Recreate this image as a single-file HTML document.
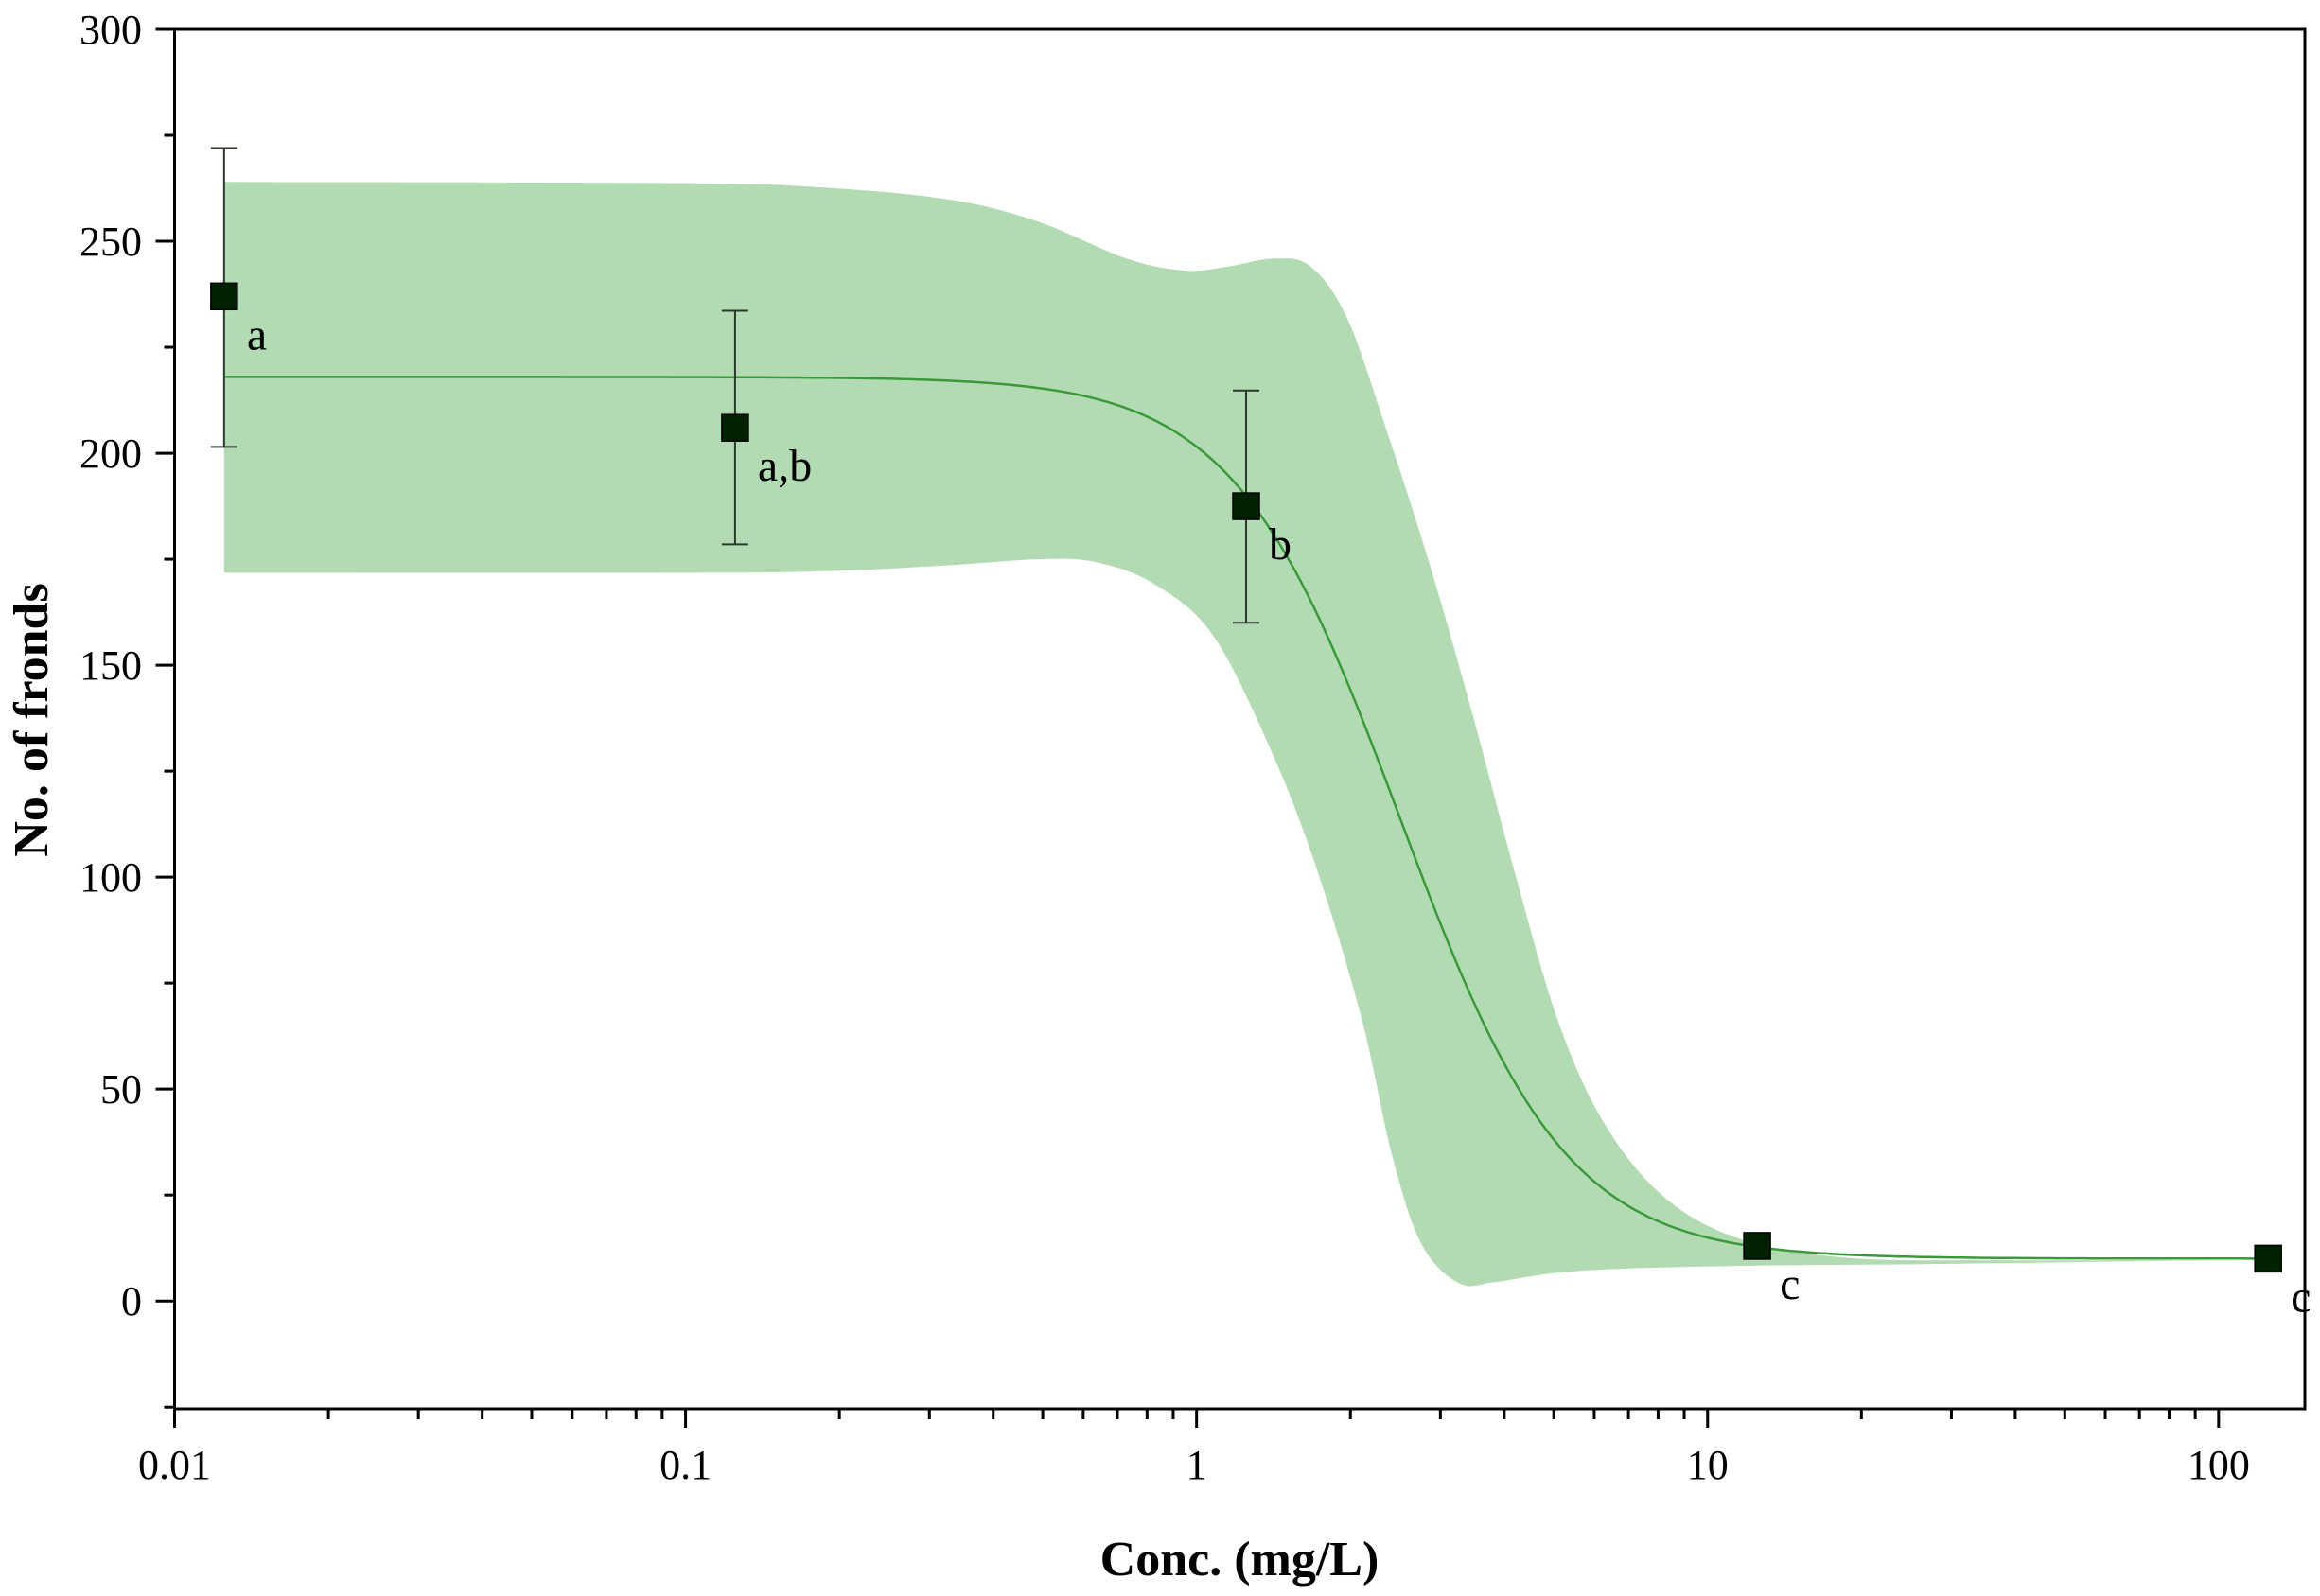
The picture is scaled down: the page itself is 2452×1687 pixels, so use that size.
<!DOCTYPE html>
<html><head><meta charset="utf-8"><style>
html,body{margin:0;padding:0;background:#fff}
svg{display:block}
text{font-family:"Liberation Serif",serif;fill:#000}
</style></head><body>
<svg id="chart" width="2452" height="1687" viewBox="0 0 2452 1687" xmlns="http://www.w3.org/2000/svg">
<g id="band"></g>
<g id="fit"></g>
<g id="errs"></g>
<g id="pts"></g>
<g id="axes"></g>
<text x="1310" y="1665" text-anchor="middle" font-size="52" font-weight="bold">Conc. (mg/L)</text>
<text transform="translate(50,761) rotate(-90)" text-anchor="middle" font-size="52" font-weight="bold">No. of fronds</text>
</svg>
<script>
const conc = [0.0125, 0.125, 1.25, 12.5, 125];
const fronds = [237, 206, 187.5, 13, 10];
const errHi = [272, 233.6, 214.8, 13, 10];
const errLo = [201.5, 178.5, 160, 13, 10];
const groupLabels = ["a", "a,b", "b", "c", "c"];
const fitParams = [218, 10, 2.5, 2.68]; // top, bottom, x0, hill
const upperX = [0.0125,0.1,0.19,0.33,0.49,0.73,0.95,1.16,1.41,1.67,1.97,2.35,2.85,3.45,4.2,5.1,6.3,8.3,11.8,19.1,37.1,72.3,125];
const upperY = [264,263.7,262.6,259.8,254.6,245.9,243.1,244.1,245.9,244.1,231.9,205.7,174.3,139.4,100.9,66,41.6,24.1,14.3,10.1,9.6,9.6,9.6];
const lowerX = [0.0125,0.1,0.19,0.33,0.49,0.636,0.83,1.08,1.41,1.73,2.11,2.41,2.75,3.26,3.85,5.02,7.01,13.6,26.6,72.3,125];
const lowerY = [171.8,171.8,172.2,173.6,175,174.3,169,156.8,128.9,100.9,66,34.6,13.6,4.2,4.5,6.6,7.7,8.4,8.7,9.4,9.6];
const yTicks = [0,50,100,150,200,250,300];
const xTicks = [0.01,0.1,1,10,100];
const xTickLabels = ["0.01","0.1","1","10","100"];

const L=184.5,T=31,R=2436,B=1489;
const X0=0.01, X1=147.5, Y0=-25.4, Y1=300;
const sx=v=>L+(Math.log10(v)-Math.log10(X0))/(Math.log10(X1)-Math.log10(X0))*(R-L);
const sy=v=>B-(v-Y0)/(Y1-Y0)*(B-T);
const NS="http://www.w3.org/2000/svg";
function mk(tag,parent,attrs){const e=document.createElementNS(NS,tag);for(const k in attrs)e.setAttribute(k,attrs[k]);parent.appendChild(e);return e;}
function cr(p){let d=`M${p[0][0]},${p[0][1]}`;for(let i=0;i<p.length-1;i++){const a=p[Math.max(i-1,0)],b=p[i],c=p[i+1],e=p[Math.min(i+2,p.length-1)];
d+=` C${b[0]+(c[0]-a[0])/6},${b[1]+(c[1]-a[1])/6} ${c[0]-(e[0]-b[0])/6},${c[1]-(e[1]-b[1])/6} ${c[0]},${c[1]}`;}return d;}

const up=upperX.map((x,i)=>[sx(x),sy(upperY[i])]);
const lo=lowerX.map((x,i)=>[sx(x),sy(lowerY[i])]).reverse();
let dU=cr(up), dL=cr(lo).replace(/^M/,'L');
const band=mk('path',document.getElementById('band'),{d:dU+' '+dL+' Z',fill:'#b3dbb3'});



const fp=[];
for(let i=0;i<=300;i++){const lx=Math.log10(conc[0])+i/300*(Math.log10(conc[4])-Math.log10(conc[0]));const x=Math.pow(10,lx);
const y=fitParams[1]+(fitParams[0]-fitParams[1])/(1+Math.pow(x/fitParams[2],fitParams[3]));fp.push([sx(x),sy(y)].map(v=>v.toFixed(1)).join(','));}
const fl=mk('polyline',document.getElementById('fit'),{points:fp.join(' '),fill:'none',stroke:'#3a9a3a','stroke-width':2.5});



const eg=document.getElementById('errs'), pg=document.getElementById('pts');
conc.forEach((c,i)=>{const x=sx(c);
 if(errHi[i]-errLo[i]>1){
  const g=mk('g',eg,{stroke:'#2a3a2a','stroke-width':2});
  
  
  mk('line',g,{x1:x,x2:x,y1:sy(errHi[i]),y2:sy(errLo[i])});
  mk('line',g,{x1:x-14,x2:x+14,y1:sy(errHi[i]),y2:sy(errHi[i])});
  mk('line',g,{x1:x-14,x2:x+14,y1:sy(errLo[i]),y2:sy(errLo[i])});
 }
 const r=mk('rect',pg,{x:x-14,y:sy(fronds[i])-14,width:28,height:28,fill:'#002200',stroke:'#000','stroke-width':1.5});
 
 
 const t=mk('text',pg,{x:x+24,y:sy(fronds[i])+56,'font-size':48});
 t.textContent=groupLabels[i];
 
 
});

const ax=document.getElementById('axes');
const fr=mk('path',ax,{d:`M${L},${T} L${L},${B} L${R},${B} L${R},${T} Z`,fill:'none',stroke:'#000','stroke-width':3});


for(let v=-25;v<=300;v+=25){const y=sy(v);const major=v%50===0;
 mk('line',ax,{x1:L,x2:L-(major?20:11),y1:y,y2:y,stroke:'#000','stroke-width':3});}
yTicks.forEach(v=>{const t=mk('text',ax,{x:150,y:sy(v)+15,'font-size':44,'text-anchor':'end'});t.textContent=v;
 
 });
for(let d=0.01;d<=100;d*=10){for(let k=1;k<=9;k++){const v=d*k;if(v>X1)break;const x=sx(v);
 mk('line',ax,{x1:x,x2:x,y1:B,y2:B+(k===1?20:11),stroke:'#000','stroke-width':3});}}
xTicks.forEach((v,i)=>{const t=mk('text',ax,{x:sx(v),y:1563,'font-size':44,'text-anchor':'middle'});t.textContent=xTickLabels[i];
 
 });
</script>
</body></html>
